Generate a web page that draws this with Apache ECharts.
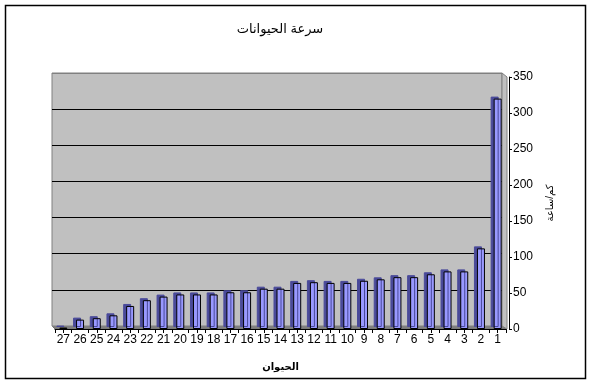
<!DOCTYPE html>
<html>
<head>
<meta charset="utf-8">
<script src="https://cdn.jsdelivr.net/npm/echarts@6/dist/echarts.min.js"></script>
<style>
html,body{margin:0;padding:0;background:#fff;}
#chart{width:592px;height:386px;}
</style>
</head>
<body>
<div id="chart"></div>
<script>
var titleText = 'سرعة الحيوانات';
var xTitle = 'الحيوان';
var yTitle = 'كم/ساعة';
var categories = ['1','2','3','4','5','6','7','8','9','10','11','12','13','14','15','16','17','18','19','20','21','22','23','24','25','26','27'];
var speeds = [320,112,80,80,76,72,72,69,67,64,64,65,64,56,56,51,51,48,48,48,45,40,32,19,15,13,2];
var yMin = 0, yMax = 350, yStep = 50;

var FONT = "'Liberation Sans', Arial, 'DejaVu Sans', sans-serif";
var chart = echarts.init(document.getElementById('chart'), null, {renderer:'canvas'});
var option = {
  animation:false,
  backgroundColor:'#fff',
  title:{text:titleText,left:275,top:18,textAlign:'center',
    textStyle:{fontSize:13,fontWeight:'normal',color:'#000',fontFamily:FONT}},
  grid:[
    {left:52,right:90,top:73,bottom:60,show:true,backgroundColor:'#C0C0C0',borderColor:'#808080',borderWidth:1},
    {left:55,right:86,top:77,bottom:57}
  ],
  xAxis:[
    {gridIndex:0,type:'category',data:categories,inverse:true,show:false},
    {gridIndex:1,type:'category',data:categories,inverse:true,
      axisLine:{show:true,lineStyle:{color:'#000',width:1}},
      axisTick:{show:true,length:4,lineStyle:{color:'#000'}},
      axisLabel:{interval:0,fontSize:12,color:'#000',margin:5,fontFamily:FONT},
      name:xTitle,nameLocation:'middle',nameGap:33,
      nameTextStyle:{fontSize:10,fontWeight:'bold',color:'#000',fontFamily:FONT}},
    {gridIndex:1,type:'category',data:categories,inverse:true,position:'bottom',
      axisLine:{show:false},
      axisTick:{show:true,alignWithLabel:true,length:4,lineStyle:{color:'#000'}},
      axisLabel:{show:false}}
  ],
  yAxis:[
    {gridIndex:0,type:'value',min:yMin,max:yMax,interval:yStep,
      axisLabel:{show:false},axisLine:{show:false},axisTick:{show:false},
      splitLine:{show:true,lineStyle:{color:['#808080','#000','#000','#000','#000','#000','#000','#808080'],width:1}}},
    {gridIndex:1,type:'value',min:yMin,max:yMax,interval:yStep,position:'right',offset:3,
      axisLine:{show:true,lineStyle:{color:'#000'}},
      axisTick:{show:true,length:3,lineStyle:{color:'#000'}},
      splitLine:{show:false},
      axisLabel:{fontSize:12,color:'#000',margin:4,fontFamily:FONT},
      name:yTitle,nameLocation:'middle',nameGap:36,nameRotate:90,
      nameTextStyle:{fontSize:10,color:'#000',fontFamily:FONT}}
  ],
  series:[
    {type:'bar',xAxisIndex:1,yAxisIndex:1,data:speeds,barWidth:8,
      itemStyle:{color:'#9999FF',borderColor:'#000',borderWidth:1,
        shadowColor:'#4a4a9a',shadowOffsetX:-3,shadowOffsetY:-2,shadowBlur:0}}
  ],
  graphic:[
    {type:'polygon',z:-1,silent:true,shape:{points:[[52,326],[502,326],[507,329],[55,329]]},
      style:{fill:'#808080',stroke:'#707070',lineWidth:1}},
    {type:'polygon',z:1,silent:true,shape:{points:[[502,73],[507,77],[507,329],[502,326]]},
      style:{fill:'#C0C0C0',stroke:'#808080',lineWidth:1}},
    {type:'rect',silent:true,shape:{x:5.5,y:5.5,width:580,height:373},
      style:{fill:null,stroke:'#000',lineWidth:1.5}}
  ]
};
chart.setOption(option);
</script>
</body>
</html>
